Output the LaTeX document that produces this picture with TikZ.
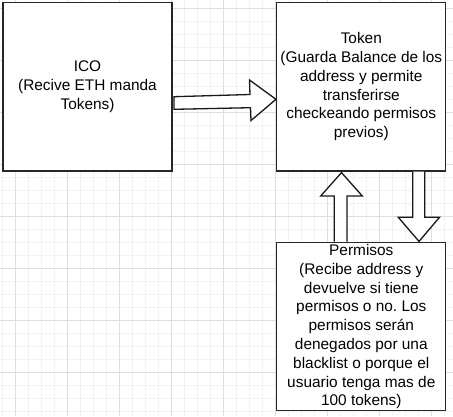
\documentclass[tikz,border=0pt]{standalone}
\usepackage{fontspec}
\setmainfont{Liberation Sans}
\frenchspacing
\begin{document}
\begin{tikzpicture}[x=1pt,y=-1pt,
  minorgrid/.style={draw=black!5,line width=0.9pt},
  majorgrid/.style={draw=black!13,line width=0.9pt},
  box/.style={draw=black!85,line width=1.3pt,fill=white,rectangle,
    minimum width=169pt,minimum height=168.5pt,inner sep=0pt,
    align=center,font=\fontsize{15.4}{18.8}\selectfont},
  blockarrow/.style={draw=black!90,line width=1.3pt,fill=white,line join=miter}]
\useasboundingbox (0,0) rectangle (453,416);
\fill[white] (0,0) rectangle (453,416);
% grid
\foreach \i in {0,...,34} {\draw[minorgrid] ({2.3+13*\i},0) -- ({2.3+13*\i},416);}
\foreach \i in {0,...,31} {\draw[minorgrid] (0,{8.3+13*\i}) -- (453,{8.3+13*\i});}
\foreach \i in {0,...,8} {\draw[majorgrid] ({15.3+52*\i},0) -- ({15.3+52*\i},416);}
\foreach \i in {0,...,7} {\draw[majorgrid] (0,{8.3+52*\i}) -- (453,{8.3+52*\i});}
% boxes
\node[box] (ico) at (87.5,86.7) {ICO\\(Recive ETH manda\\Tokens)};
\node[box] (tok) at (361.3,86.7) {Token\\(Guarda Balance de los\\address y permite\\transferirse\\checkeando permisos\\previos)};
\node[box,minimum height=168pt] (perm) at (361.3,326.7) {Permisos\\(Recibe address y\\devuelve si tiene\\permisos o no. Los\\permisos serán\\denegados por una\\blacklist o porque el\\usuario tenga mas de\\100 tokens)};
% block arrows
\draw[blockarrow] (174,96.7) -- (250,94.5) -- (249.5,80) -- (276,99.3) -- (251,120.5) -- (250.5,107.7) -- (174,109.3) -- cycle;
\draw[blockarrow] (334.3,241.7) -- (334.3,196) -- (320.7,196) -- (341.5,172.6) -- (362.3,196) -- (347,196) -- (347,241.7);
\draw[blockarrow] (412.7,171.5) -- (412.7,217.3) -- (398.3,217.3) -- (419,241.4) -- (439.5,217.3) -- (424.7,217.3) -- (424.7,171.5);
\end{tikzpicture}
\end{document}
